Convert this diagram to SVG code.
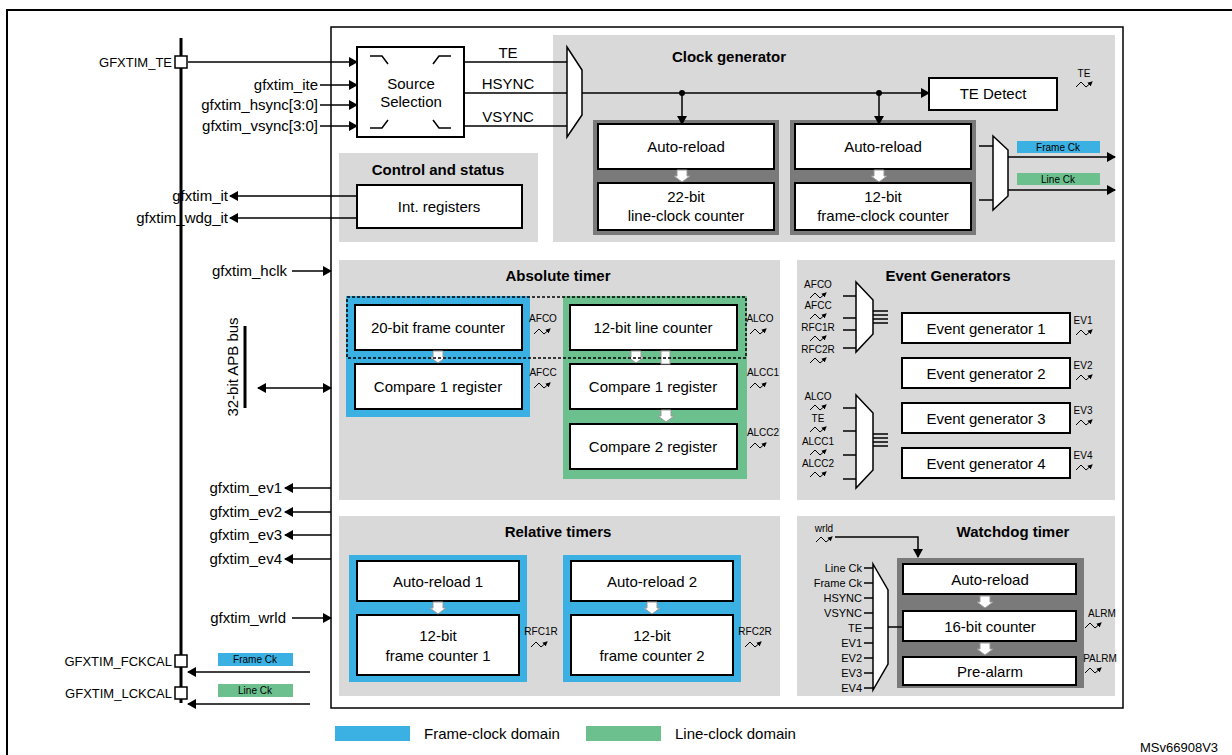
<svg xmlns="http://www.w3.org/2000/svg" width="1232" height="755" viewBox="0 0 1232 755">
<style>
text{font-family:"Liberation Sans",Arial,sans-serif;fill:#000}
.t{font-size:15px}.b{font-size:15px;font-weight:bold}.s{font-size:13px}.xs{font-size:10px}.w{font-size:11px}
.box{fill:#fff;stroke:#000;stroke-width:2}
.grey{fill:#d9d9d9}.dark{fill:#7a7a7a}
.blue{fill:#3bb0e3}.green{fill:#6cc08e}
.ln{stroke:#000;stroke-width:1.5;fill:none}
.arr{stroke:#000;stroke-width:1.5;fill:none;marker-end:url(#ah)}
.arr2{stroke:#000;stroke-width:1.5;fill:none;marker-start:url(#ahs);marker-end:url(#ah)}
.mux{fill:#fff;stroke:#000;stroke-width:1.5}
</style>
<defs>
<marker id="ah" markerWidth="9" markerHeight="10" refX="8" refY="5" orient="auto" markerUnits="userSpaceOnUse"><path d="M0,0 L9,5 L0,10 z"/></marker>
<marker id="ahs" markerWidth="9" markerHeight="10" refX="1" refY="5" orient="auto" markerUnits="userSpaceOnUse"><path d="M9,0 L0,5 L9,10 z"/></marker>
<marker id="sa" markerWidth="5" markerHeight="5" refX="4" refY="2.5" orient="auto" markerUnits="userSpaceOnUse"><path d="M0,0 L5,2.5 L0,5 z"/></marker>
<path id="sig" d="M0,7 L5,2 L10,7 L16,2" fill="none" stroke="#000" stroke-width="1" marker-end="url(#sa)"/>
<path id="dn" d="M-5,0 h10 v6 h3 l-8,6 l-8,-6 h3 z" fill="#fff" stroke="#999" stroke-width="1"/>
</defs>
<rect x="0" y="0" width="1232" height="755" fill="#fff"/>
<path d="M7,755 V10 H1232" fill="none" stroke="#000" stroke-width="2"/>
<rect x="331" y="27" width="792" height="681" fill="#fff" stroke="#000" stroke-width="1.5"/>

<g id="bus">
<line x1="181" y1="38" x2="181" y2="703" stroke="#000" stroke-width="3"/>
<rect x="175" y="56" width="12" height="12" fill="#fff" stroke="#000" stroke-width="1.5"/>
<text x="172" y="67" class="s" text-anchor="end">GFXTIM_TE</text>
<rect x="175" y="655" width="12" height="12" fill="#fff" stroke="#000" stroke-width="1.5"/>
<text x="172" y="666" class="s" text-anchor="end">GFXTIM_FCKCAL</text>
<rect x="175" y="687" width="12" height="12" fill="#fff" stroke="#000" stroke-width="1.5"/>
<text x="172" y="698" class="s" text-anchor="end">GFXTIM_LCKCAL</text>
<rect x="218" y="653" width="75" height="13" class="blue"/><text x="255" y="663" class="xs" text-anchor="middle">Frame Ck</text>
<rect x="218" y="684" width="75" height="13" class="green"/><text x="255" y="694" class="xs" text-anchor="middle">Line Ck</text>
<line x1="245" y1="326" x2="245" y2="408" stroke="#000" stroke-width="3"/>
<text transform="translate(238,367) rotate(-90)" class="t" text-anchor="middle">32-bit APB bus</text>
<text x="287" y="276" class="t" text-anchor="end">gfxtim_hclk</text>
<text x="318" y="90" class="t" text-anchor="end">gfxtim_ite</text>
<text x="318" y="110" class="t" text-anchor="end">gfxtim_hsync[3:0]</text>
<text x="318" y="131" class="t" text-anchor="end">gfxtim_vsync[3:0]</text>
<text x="228" y="201" class="t" text-anchor="end">gfxtim_it</text>
<text x="228" y="223" class="t" text-anchor="end">gfxtim_wdg_it</text>
<text x="282" y="493" class="t" text-anchor="end">gfxtim_ev1</text>
<text x="282" y="517" class="t" text-anchor="end">gfxtim_ev2</text>
<text x="282" y="540" class="t" text-anchor="end">gfxtim_ev3</text>
<text x="282" y="564" class="t" text-anchor="end">gfxtim_ev4</text>
<text x="286" y="623" class="t" text-anchor="end">gfxtim_wrld</text>
</g>

<rect x="553" y="35" width="562" height="207" class="grey"/>
<rect x="339" y="153" width="199" height="89" class="grey"/>
<rect x="339" y="260" width="441" height="240" class="grey"/>
<rect x="797" y="260" width="318" height="240" class="grey"/>
<rect x="339" y="516" width="441" height="180" class="grey"/>
<rect x="797" y="516" width="318" height="180" class="grey"/>
<text x="729" y="62" class="b" text-anchor="middle">Clock generator</text>
<text x="438" y="175" class="b" text-anchor="middle">Control and status</text>
<text x="558" y="281" class="b" text-anchor="middle">Absolute timer</text>
<text x="948" y="281" class="b" text-anchor="middle">Event Generators</text>
<text x="558" y="537" class="b" text-anchor="middle">Relative timers</text>
<text x="1013" y="537" class="b" text-anchor="middle">Watchdog timer</text>

<g id="source">
<rect x="357" y="47" width="107" height="90" class="box"/>
<path d="M370,56 h12 l6,8 M451,56 h-12 l-6,8 M370,128 h12 l6,-8 M451,128 h-12 l-6,-8" class="ln" stroke-width="1.2"/>
<text x="411" y="89" class="t" text-anchor="middle">Source</text>
<text x="411" y="107" class="t" text-anchor="middle">Selection</text>
<text x="508" y="58" class="t" text-anchor="middle">TE</text>
<text x="508" y="89" class="t" text-anchor="middle">HSYNC</text>
<text x="508" y="122" class="t" text-anchor="middle">VSYNC</text>
</g>
<g id="mux1"><path d="M567,47 L582,70 L582,115 L567,137 z" class="mux"/></g>

<g id="clkgen">
<rect x="593" y="120" width="186" height="115" class="dark"/>
<rect x="790" y="120" width="186" height="115" class="dark"/>
<rect x="598" y="124" width="176" height="45" class="box"/><text x="686" y="152" class="t" text-anchor="middle">Auto-reload</text>
<rect x="598" y="183" width="176" height="47" class="box"/><text x="686" y="202" class="t" text-anchor="middle">22-bit</text><text x="686" y="221" class="t" text-anchor="middle">line-clock counter</text>
<rect x="795" y="124" width="176" height="45" class="box"/><text x="883" y="152" class="t" text-anchor="middle">Auto-reload</text>
<rect x="795" y="183" width="176" height="47" class="box"/><text x="883" y="202" class="t" text-anchor="middle">12-bit</text><text x="883" y="221" class="t" text-anchor="middle">frame-clock counter</text>
<use href="#dn" x="682" y="170"/><use href="#dn" x="879" y="170"/>
<rect x="929" y="78" width="128" height="32" class="box"/><text x="993" y="99" class="t" text-anchor="middle">TE Detect</text>
<text x="1084" y="77" class="xs" text-anchor="middle">TE</text><use href="#sig" x="1076" y="80"/>
<path d="M993,136 L1008,150 L1008,196 L993,210 z" class="mux"/>
<rect x="1017" y="141" width="83" height="12" class="blue"/><text x="1058" y="151" class="xs" text-anchor="middle">Frame Ck</text>
<rect x="1017" y="173" width="83" height="12" class="green"/><text x="1058" y="183" class="xs" text-anchor="middle">Line Ck</text>
</g>

<g id="ctrl">
<rect x="357" y="185" width="165" height="43" class="box"/><text x="439" y="212" class="t" text-anchor="middle">Int. registers</text>
</g>

<g id="abs">
<rect x="346" y="296" width="184" height="121" class="blue"/>
<rect x="563" y="296" width="184" height="183" class="green"/>
<rect x="355" y="305" width="167" height="45" class="box"/><text x="438" y="333" class="t" text-anchor="middle">20-bit frame counter</text>
<rect x="355" y="364" width="167" height="45" class="box"/><text x="438" y="392" class="t" text-anchor="middle">Compare 1 register</text>
<rect x="570" y="305" width="167" height="45" class="box"/><text x="653" y="333" class="t" text-anchor="middle">12-bit line counter</text>
<rect x="570" y="364" width="167" height="45" class="box"/><text x="653" y="392" class="t" text-anchor="middle">Compare 1 register</text>
<rect x="570" y="424" width="167" height="45" class="box"/><text x="653" y="452" class="t" text-anchor="middle">Compare 2 register</text>
<use href="#dn" x="438" y="351"/><use href="#dn" x="636" y="351"/><rect x="661" y="351" width="9" height="13" fill="#fff" stroke="#999"/><use href="#dn" x="666" y="410"/>
<rect x="347" y="297" width="399" height="61" fill="none" stroke="#000" stroke-width="1.5" stroke-dasharray="3,2"/>
<text x="543" y="322" class="xs" text-anchor="middle">AFCO</text><use href="#sig" x="534" y="327"/>
<text x="543" y="376" class="xs" text-anchor="middle">AFCC</text><use href="#sig" x="534" y="381"/>
<text x="760" y="322" class="xs" text-anchor="middle">ALCO</text><use href="#sig" x="750" y="327"/>
<text x="763" y="376" class="xs" text-anchor="middle">ALCC1</text><use href="#sig" x="750" y="381"/>
<text x="763" y="436" class="xs" text-anchor="middle">ALCC2</text><use href="#sig" x="750" y="441"/>
</g>

<g id="evgen">
<path d="M856,282 L873,300 L873,334 L856,352 z" class="mux"/>
<path d="M856,395 L873,413 L873,470 L856,488 z" class="mux"/>
<path d="M873,311 h15 M873,315 h15 M873,319 h15 M873,323 h15 M873,434 h15 M873,438 h15 M873,442 h15 M873,446 h15" class="ln" stroke-width="1"/>
<text x="818" y="288" class="xs" text-anchor="middle">AFCO</text><use href="#sig" x="810" y="291"/><line x1="843" y1="296" x2="856" y2="296" class="ln" stroke-width="1"/>
<text x="818" y="309" class="xs" text-anchor="middle">AFCC</text><use href="#sig" x="810" y="312"/><line x1="843" y1="318" x2="856" y2="318" class="ln" stroke-width="1"/>
<text x="818" y="331" class="xs" text-anchor="middle">RFC1R</text><use href="#sig" x="810" y="334"/><line x1="843" y1="330" x2="856" y2="330" class="ln" stroke-width="1"/>
<text x="818" y="353" class="xs" text-anchor="middle">RFC2R</text><use href="#sig" x="810" y="356"/><line x1="843" y1="348" x2="856" y2="348" class="ln" stroke-width="1"/>
<text x="818" y="400" class="xs" text-anchor="middle">ALCO</text><use href="#sig" x="810" y="403"/><line x1="843" y1="408" x2="856" y2="408" class="ln" stroke-width="1"/>
<text x="818" y="422" class="xs" text-anchor="middle">TE</text><use href="#sig" x="810" y="425"/><line x1="843" y1="431" x2="856" y2="431" class="ln" stroke-width="1"/>
<text x="818" y="445" class="xs" text-anchor="middle">ALCC1</text><use href="#sig" x="810" y="448"/><line x1="843" y1="455" x2="856" y2="455" class="ln" stroke-width="1"/>
<text x="818" y="467" class="xs" text-anchor="middle">ALCC2</text><use href="#sig" x="810" y="470"/><line x1="843" y1="479" x2="856" y2="479" class="ln" stroke-width="1"/>
<rect x="902" y="313" width="168" height="30" class="box"/><text x="986" y="334" class="t" text-anchor="middle">Event generator 1</text>
<rect x="902" y="358" width="168" height="30" class="box"/><text x="986" y="379" class="t" text-anchor="middle">Event generator 2</text>
<rect x="902" y="403" width="168" height="30" class="box"/><text x="986" y="424" class="t" text-anchor="middle">Event generator 3</text>
<rect x="902" y="448" width="168" height="30" class="box"/><text x="986" y="469" class="t" text-anchor="middle">Event generator 4</text>
<text x="1083" y="324" class="xs" text-anchor="middle">EV1</text><use href="#sig" x="1076" y="328"/>
<text x="1083" y="369" class="xs" text-anchor="middle">EV2</text><use href="#sig" x="1076" y="373"/>
<text x="1083" y="414" class="xs" text-anchor="middle">EV3</text><use href="#sig" x="1076" y="418"/>
<text x="1083" y="459" class="xs" text-anchor="middle">EV4</text><use href="#sig" x="1076" y="463"/>
</g>

<g id="rel">
<rect x="349" y="555" width="178" height="127" class="blue"/>
<rect x="563" y="555" width="178" height="127" class="blue"/>
<rect x="357" y="561" width="162" height="40" class="box"/><text x="438" y="587" class="t" text-anchor="middle">Auto-reload 1</text>
<rect x="357" y="615" width="162" height="60" class="box"/><text x="438" y="641" class="t" text-anchor="middle">12-bit</text><text x="438" y="661" class="t" text-anchor="middle">frame counter 1</text>
<rect x="571" y="561" width="162" height="40" class="box"/><text x="652" y="587" class="t" text-anchor="middle">Auto-reload 2</text>
<rect x="571" y="615" width="162" height="60" class="box"/><text x="652" y="641" class="t" text-anchor="middle">12-bit</text><text x="652" y="661" class="t" text-anchor="middle">frame counter 2</text>
<use href="#dn" x="438" y="602"/><use href="#dn" x="652" y="602"/>
<text x="541" y="635" class="xs" text-anchor="middle">RFC1R</text><use href="#sig" x="531" y="640"/>
<text x="755" y="635" class="xs" text-anchor="middle">RFC2R</text><use href="#sig" x="745" y="640"/>
</g>

<g id="wdg">
<text x="824" y="532" class="xs" text-anchor="middle">wrld</text><use href="#sig" x="816" y="535"/>
<rect x="897" y="558" width="187" height="130" class="dark"/>
<rect x="903" y="564" width="173" height="30" class="box"/><text x="990" y="585" class="t" text-anchor="middle">Auto-reload</text>
<rect x="903" y="611" width="173" height="30" class="box"/><text x="990" y="632" class="t" text-anchor="middle">16-bit counter</text>
<rect x="903" y="657" width="173" height="28" class="box"/><text x="990" y="677" class="t" text-anchor="middle">Pre-alarm</text>
<use href="#dn" x="985" y="596"/><use href="#dn" x="985" y="643"/>
<path d="M873,564 L888,590 L888,664 L873,690 z" class="mux"/>
<line x1="888" y1="627" x2="903" y2="627" class="ln" stroke-width="1"/>
<text x="862" y="572" class="w" text-anchor="end">Line Ck</text><line x1="864" y1="568" x2="873" y2="568" class="ln" stroke-width="1"/>
<text x="862" y="587" class="w" text-anchor="end">Frame Ck</text><line x1="864" y1="583" x2="873" y2="583" class="ln" stroke-width="1"/>
<text x="862" y="602" class="w" text-anchor="end">HSYNC</text><line x1="864" y1="598" x2="873" y2="598" class="ln" stroke-width="1"/>
<text x="862" y="617" class="w" text-anchor="end">VSYNC</text><line x1="864" y1="613" x2="873" y2="613" class="ln" stroke-width="1"/>
<text x="862" y="632" class="w" text-anchor="end">TE</text><line x1="864" y1="628" x2="873" y2="628" class="ln" stroke-width="1"/>
<text x="862" y="647" class="w" text-anchor="end">EV1</text><line x1="864" y1="643" x2="873" y2="643" class="ln" stroke-width="1"/>
<text x="862" y="662" class="w" text-anchor="end">EV2</text><line x1="864" y1="658" x2="873" y2="658" class="ln" stroke-width="1"/>
<text x="862" y="677" class="w" text-anchor="end">EV3</text><line x1="864" y1="673" x2="873" y2="673" class="ln" stroke-width="1"/>
<text x="862" y="692" class="w" text-anchor="end">EV4</text><line x1="864" y1="688" x2="873" y2="688" class="ln" stroke-width="1"/>
<text x="1102" y="617" class="xs" text-anchor="middle">ALRM</text><use href="#sig" x="1085" y="621"/>
<text x="1100" y="662" class="xs" text-anchor="middle">PALRM</text><use href="#sig" x="1085" y="666"/>
</g>

<g id="connectors">
<path d="M188,62 H357" class="arr"/>
<path d="M320,85 H357" class="arr"/>
<path d="M320,105 H357" class="arr"/>
<path d="M320,126 H357" class="arr"/>
<path d="M464,62 H567 M464,93 H567 M464,126 H567" class="ln"/>
<path d="M582,93 H929" class="arr"/>
<circle cx="682" cy="93" r="3"/><circle cx="879" cy="93" r="3"/>
<path d="M682,93 V124" class="arr"/><path d="M879,93 V124" class="arr"/>
<path d="M979,146 H993 M979,200 H993" class="ln"/>
<path d="M1008,157 H1115" class="arr"/><path d="M1008,190 H1115" class="arr"/>
<path d="M357,196 H230" class="arr"/><path d="M357,218 H230" class="arr"/>
<path d="M292,271 H331" class="arr"/>
<path d="M258,388 H331" class="arr2"/>
<path d="M331,488 H285" class="arr"/><path d="M331,512 H285" class="arr"/>
<path d="M331,535 H285" class="arr"/><path d="M331,559 H285" class="arr"/>
<path d="M292,618 H331" class="arr"/>
<path d="M310,672 H188" class="arr"/><path d="M310,704 H188" class="arr"/>
<path d="M835,537 H918 V557" class="arr"/>
</g>

<g id="legend">
<rect x="335" y="726" width="75" height="15" class="blue"/><text x="424" y="739" class="t">Frame-clock domain</text>
<rect x="586" y="726" width="75" height="15" class="green"/><text x="675" y="739" class="t">Line-clock domain</text>
<text x="1140" y="752" class="s">MSv66908V3</text>
</g>
</svg>
